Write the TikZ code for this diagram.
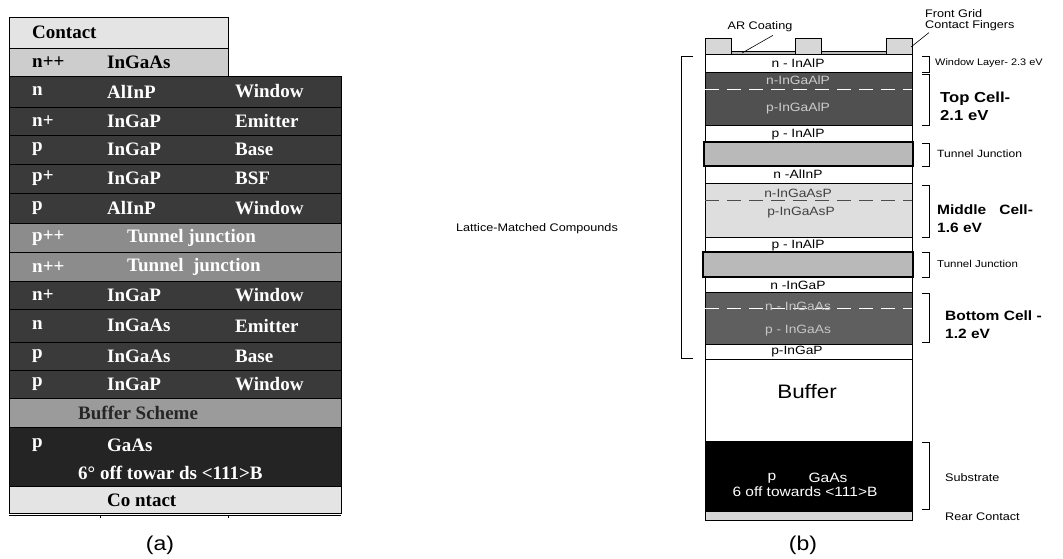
\documentclass[tikz,border=0pt]{standalone}
\usepackage{fontspec}
\setmainfont{Liberation Sans}[FakeStretch=1.15]
\newfontfamily\layerfont{Liberation Serif}
\usetikzlibrary{calc}
\definecolor{cdark}{RGB}{58,58,58}
\definecolor{cdarker}{RGB}{36,36,36}
\definecolor{ctunnel}{RGB}{140,140,140}
\definecolor{cbuffer}{RGB}{155,155,155}
\definecolor{ccontact}{RGB}{228,228,228}
\definecolor{ccap}{RGB}{205,205,205}
\definecolor{ctop}{RGB}{80,80,80}
\definecolor{cmid}{RGB}{222,222,222}
\definecolor{cbot}{RGB}{95,95,95}
\definecolor{ctj}{RGB}{185,185,185}
\definecolor{cfinger}{RGB}{215,215,215}

\begin{document}
\begin{tikzpicture}[x=1pt,y=-1pt,
    lrow/.style={draw=black, line width=0.8pt},
    ltxt/.style={anchor=west, inner sep=0pt, font=\layerfont\bfseries\fontsize{19}{22}\selectfont},
    rlay/.style={draw=black, line width=0.5pt},
    rtxt/.style={inner sep=0pt, font=\fontsize{12}{14}\selectfont},
    rlbl/.style={anchor=west, inner sep=0pt, align=left, font=\fontsize{11}{13}\selectfont},
    rbold/.style={anchor=west, inner sep=0pt, align=left, font=\bfseries\fontsize{13.5}{18}\selectfont},
    brk/.style={draw=black, line width=0.6pt},
    sublbl/.style={font=\fontsize{20}{24}\selectfont}]
  \useasboundingbox (0,0) rectangle (1063,558);

  % (a) layer table
  \draw[lrow, fill=ccontact] (9,17) rectangle (228,48);
  \node[ltxt] (lcont) at (32,32) {Contact};
  \draw[lrow, fill=ccap] (9,48) rectangle (228,76);
  \node[ltxt] (lcapa) at (32,62) {n++};
  \node[ltxt] (lcapb) at (107,62) {InGaAs};
  \foreach \yt/\yb/\da/\db/\dc [count=\i] in {76/107/n/AlInP/Window, 107/135/n+/InGaP/Emitter,
      135/164/p/InGaP/Base, 164/193/p+/InGaP/BSF, 193/223/p/AlInP/Window,
      281/309/n+/InGaP/Window, 309/342/n/InGaAs/Emitter, 342/370/p/InGaAs/Base,
      370/398/p/InGaP/Window}{
    \draw[lrow, fill=cdark] (9,\yt) rectangle (341,\yb);
    \node[ltxt, text=white] (la\i) at (32,{(\yt+\yb)/2}) {\da};
    \node[ltxt, text=white] (lb\i) at (107,{(\yt+\yb)/2}) {\db};
    \node[ltxt, text=white] (lc\i) at (235,{(\yt+\yb)/2}) {\dc};
  }
  \draw[lrow, fill=ctunnel] (9,223) rectangle (341,252);
  \node[ltxt, text=white] (ltja) at (32,238) {p++};
  \node[ltxt, text=white] (ltjb) at (127,238) {Tunnel junction};
  \draw[lrow, fill=ctunnel] (9,252) rectangle (341,281);
  \node[ltxt, text=white] (ltjc) at (32,267) {n++};
  \node[ltxt, text=white] (ltjd) at (127,267) {Tunnel\ \ junction};
  \draw[lrow, fill=cbuffer] (9,398) rectangle (341,427);
  \node[ltxt, text=black!85] (lbuf) at (78,413) {Buffer Scheme};
  \draw[lrow, fill=cdarker] (9,427) rectangle (341,486);
  \node[ltxt, text=white] (lsuba) at (32,445) {p};
  \node[ltxt, text=white] (lsubb) at (107,445) {GaAs};
  \node[ltxt, text=white] (lsubc) at (78,473) {6\textdegree{} off towar ds <111>B};
  \draw[lrow, fill=ccontact] (9,486) rectangle (341,513);
  \node[ltxt] (lrear) at (107,500) {Co ntact};
  \draw[lrow] (9,515) -- (341,515);
  \draw[lrow] (100,515) -- (100,518) (228,515) -- (228,518);
  \node[sublbl] (capa) at (160,545) {(a)};

  \node[inner sep=0pt, font=\fontsize{11}{13}\selectfont] (lattice) at (537,229) {Lattice-Matched Compounds};

  % (b) cell stack
  \foreach \xa in {705,795,886}
    \draw[rlay, fill=cfinger] (\xa,38) rectangle ++(26,16);
  \draw[rlay, fill=ctj] (731,51) rectangle (795,54);
  \draw[rlay, fill=ctj] (821,51) rectangle (886,54);
  \draw[rlay, fill=white] (705,54) rectangle (912,72);
  \node[rtxt] (rwin) at (798,63) {n - InAlP};
  \draw[rlay, fill=ctop] (705,72) rectangle (912,125);
  \draw[white, dash pattern=on 14pt off 8pt, line width=0.8pt] (705,89) -- (912,89);
  \node[rtxt, text=gray!40] (rtopn) at (798,80) {n-InGaAlP};
  \node[rtxt, text=gray!40] (rtopp) at (798,108) {p-InGaAlP};
  \draw[rlay, fill=white] (705,125) rectangle (912,142);
  \node[rtxt] (rbsfa) at (798,134) {p - InAlP};
  \draw[line width=1.2pt, fill=ctj] (704,142) rectangle (913,166);
  \draw[rlay, fill=white] (705,166) rectangle (912,183);
  \node[rtxt] (rwina) at (798,174) {n -AlInP};
  \draw[rlay, fill=cmid] (705,183) rectangle (912,237);
  \draw[black!70, dash pattern=on 14pt off 8pt, line width=0.8pt] (705,200) -- (912,200);
  \node[rtxt, text=black!75] (rmidn) at (798,193) {n-InGaAsP};
  \node[rtxt, text=black!75] (rmidp) at (801,213) {p-InGaAsP};
  \draw[rlay, fill=white] (705,237) rectangle (912,252);
  \node[rtxt] (rbsfb) at (798,245) {p - InAlP};
  \draw[line width=1.2pt, fill=ctj] (703,252) rectangle (913,277);
  \draw[rlay, fill=white] (705,277) rectangle (912,292);
  \node[rtxt] (rwinb) at (798,285) {n -InGaP};
  \draw[rlay, fill=cbot] (705,292) rectangle (912,344);
  \draw[white, dash pattern=on 14pt off 8pt, line width=0.8pt] (705,308) -- (912,308);
  \node[rtxt, text=gray!45] (rbotn) at (798,306) {n - InGaAs};
  \node[rtxt, text=gray!45] (rbotp) at (798,331) {p - InGaAs};
  \draw[rlay, fill=white] (705,344) rectangle (912,359);
  \node[rtxt] (rbsfc) at (797,352) {p-InGaP};
  \draw[line width=1pt, fill=white] (705,359) rectangle (912,441);
  \node[inner sep=0pt, font=\fontsize{19.5}{22}\selectfont] (rbuf) at (807,392) {Buffer};
  \draw[fill=black] (705,441) rectangle (912,511);
  \node[inner sep=0pt, text=white, font=\fontsize{13.5}{16}\selectfont] (rsuba) at (772,478) {p};
  \node[inner sep=0pt, text=white, font=\fontsize{13.5}{16}\selectfont] (rsubb) at (828,478) {GaAs};
  \node[inner sep=0pt, text=white, font=\fontsize{13.5}{16}\selectfont] (rsubc) at (805,492) {6 off towards <111>B};
  \draw[rlay, fill=cfinger] (705,511) rectangle (912,520);
  \node[sublbl] (capb) at (803,545) {(b)};

  % brackets and labels
  \draw[brk] (693,56) -- (681,56) -- (681,358) -- (693,358);
  \foreach \yt/\yb in {56/72, 74/125, 143/166, 185/237, 252/277, 293/342, 442/509}
    \draw[brk] (922,\yt) -- (929,\yt) -- (929,\yb) -- (922,\yb);
  \node[rlbl, font=\fontsize{9.5}{12}\selectfont] (lwin) at (935,63) {Window Layer- 2.3 eV};
  \node[rbold, font=\bfseries\fontsize{14.5}{18}\selectfont] (ltop) at (940,106) {Top Cell-\\2.1 eV};
  \node[rlbl, font=\fontsize{10.5}{12}\selectfont] (ltja) at (937,154) {Tunnel Junction};
  \node[rbold] (lmid) at (937,219) {Middle\ \ \ Cell-\\1.6 eV};
  \node[rlbl, font=\fontsize{10}{12}\selectfont] (ltjb) at (937,264) {Tunnel Junction};
  \node[rbold] (lbot) at (945,325) {Bottom Cell -\\1.2 eV};
  \node[rlbl] (lsub) at (945,478) {Substrate};
  \node[rlbl] (lrc) at (945,517) {Rear Contact};

  \node[inner sep=0pt, font=\fontsize{11}{13}\selectfont] (arlbl) at (760,27) {AR Coating};
  \coordinate (arend) at (742,53);
  \draw[line width=0.6pt] ($(arlbl.south)+(13,3)$) -- (arend);
  \node[rlbl, font=\fontsize{11}{10.5}\selectfont] (fglbl) at (925,20) {Front Grid\\Contact Fingers};
  \coordinate (fgend) at (911,47);
  \draw[line width=0.6pt] ($(fglbl.south west)+(4,2)$) -- (fgend);
\end{tikzpicture}
\end{document}
